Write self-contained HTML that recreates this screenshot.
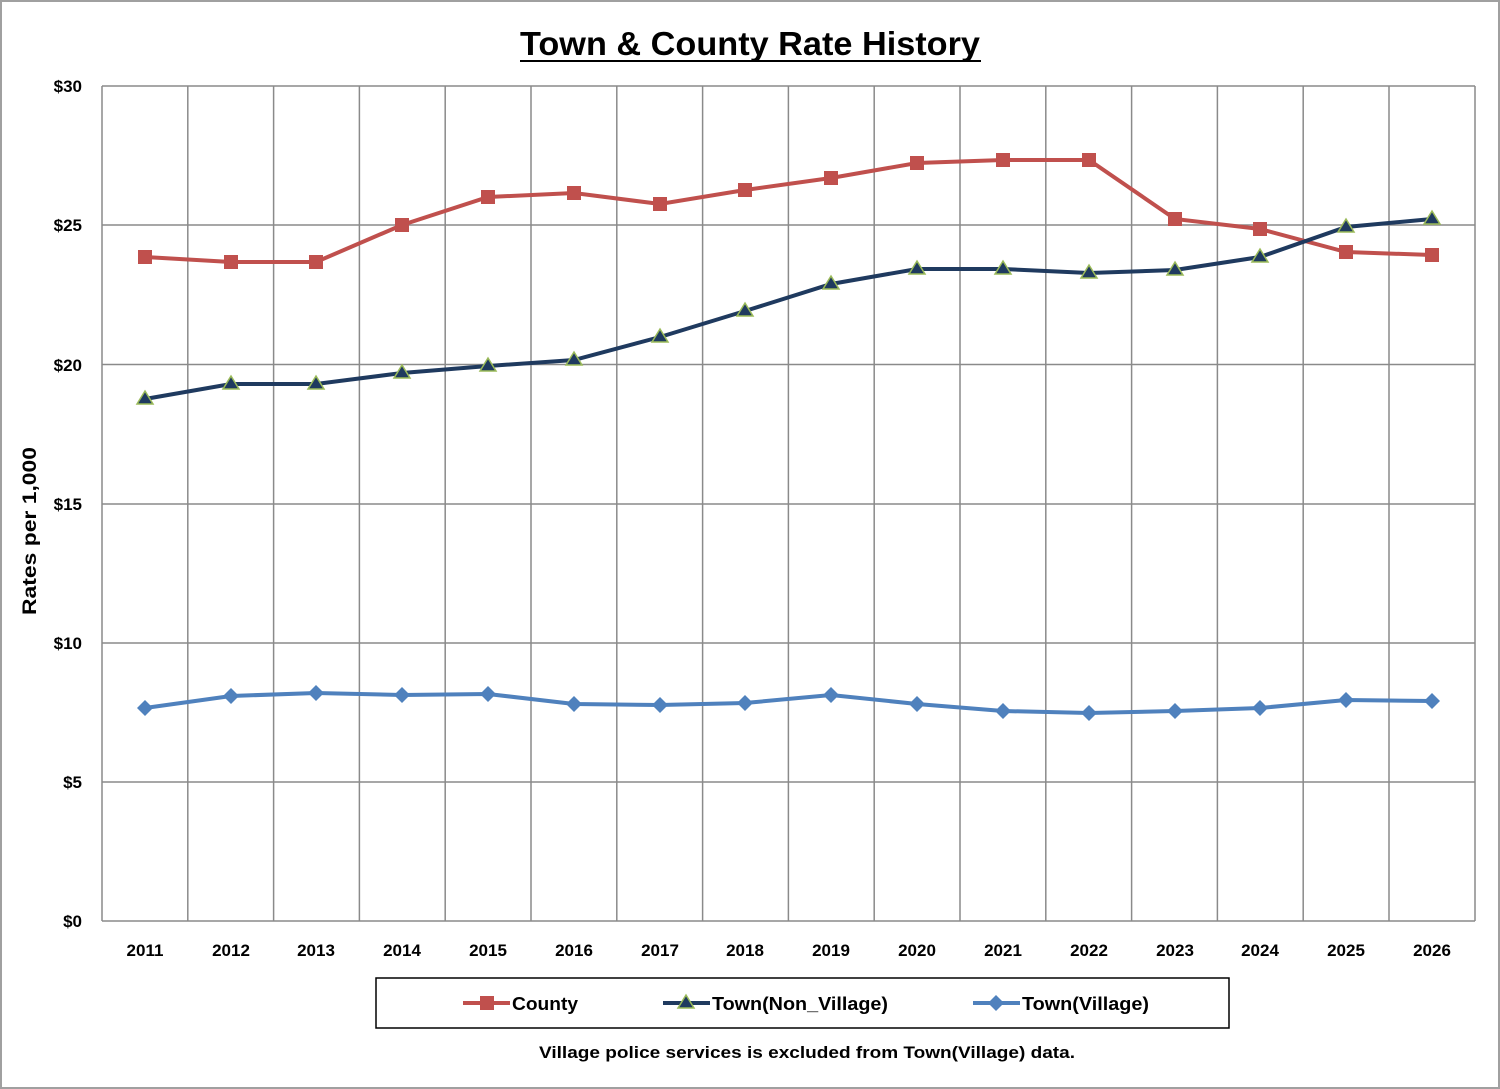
<!DOCTYPE html>
<html><head><meta charset="utf-8"><style>
body{margin:0;background:#fff}
svg{display:block}
text{font-family:"Liberation Sans",Arial,sans-serif;font-weight:bold}
</style></head><body>
<svg width="1500" height="1089" viewBox="0 0 1500 1089" xmlns="http://www.w3.org/2000/svg">
<rect x="1" y="1" width="1498" height="1087" fill="#fff" stroke="#a0a0a0" stroke-width="2"/>
<text x="520" y="55" font-size="33" textLength="460" lengthAdjust="spacingAndGlyphs">Town &amp; County Rate History</text>
<line x1="520" y1="61" x2="981" y2="61" stroke="#000" stroke-width="2"/>
<g stroke="#8a8a8a" stroke-width="1.5">
<line x1="102" y1="86" x2="1475" y2="86"/><line x1="102" y1="225" x2="1475" y2="225"/>
<line x1="102" y1="364.5" x2="1475" y2="364.5"/><line x1="102" y1="504" x2="1475" y2="504"/>
<line x1="102" y1="643" x2="1475" y2="643"/><line x1="102" y1="782" x2="1475" y2="782"/>
<line x1="102" y1="921" x2="1475" y2="921"/>
<line x1="102" y1="86" x2="102" y2="921"/><line x1="187.8" y1="86" x2="187.8" y2="921"/><line x1="273.6" y1="86" x2="273.6" y2="921"/><line x1="359.4" y1="86" x2="359.4" y2="921"/><line x1="445.2" y1="86" x2="445.2" y2="921"/><line x1="531" y1="86" x2="531" y2="921"/><line x1="616.8" y1="86" x2="616.8" y2="921"/><line x1="702.6" y1="86" x2="702.6" y2="921"/><line x1="788.4" y1="86" x2="788.4" y2="921"/><line x1="874.2" y1="86" x2="874.2" y2="921"/><line x1="960" y1="86" x2="960" y2="921"/><line x1="1045.8" y1="86" x2="1045.8" y2="921"/><line x1="1131.6" y1="86" x2="1131.6" y2="921"/><line x1="1217.4" y1="86" x2="1217.4" y2="921"/><line x1="1303.2" y1="86" x2="1303.2" y2="921"/><line x1="1389" y1="86" x2="1389" y2="921"/><line x1="1475" y1="86" x2="1475" y2="921"/>
</g>
<g font-size="17" text-anchor="end">
<text x="82" y="92">$30</text><text x="82" y="231">$25</text><text x="82" y="371">$20</text><text x="82" y="510">$15</text><text x="82" y="649">$10</text><text x="82" y="788">$5</text><text x="82" y="927">$0</text>
</g>
<g font-size="17" text-anchor="middle">
<text x="145" y="956">2011</text><text x="231" y="956">2012</text><text x="316" y="956">2013</text><text x="402" y="956">2014</text><text x="488" y="956">2015</text><text x="574" y="956">2016</text><text x="660" y="956">2017</text><text x="745" y="956">2018</text><text x="831" y="956">2019</text><text x="917" y="956">2020</text><text x="1003" y="956">2021</text><text x="1089" y="956">2022</text><text x="1175" y="956">2023</text><text x="1260" y="956">2024</text><text x="1346" y="956">2025</text><text x="1432" y="956">2026</text>
</g>
<text transform="translate(36,615) rotate(-90)" font-size="19" textLength="168" lengthAdjust="spacingAndGlyphs">Rates per 1,000</text>
<polyline fill="none" stroke="#c0504d" stroke-width="4" points="145,257 231,262 316,262 402,225 488,197 574,193 660,204 745,190 831,178 917,163 1003,160 1089,160 1175,219 1260,229 1346,252 1432,255"/>
<g fill="#c0504d">
<rect x="138" y="250" width="14" height="14"/><rect x="224" y="255" width="14" height="14"/><rect x="309" y="255" width="14" height="14"/><rect x="395" y="218" width="14" height="14"/><rect x="481" y="190" width="14" height="14"/><rect x="567" y="186" width="14" height="14"/><rect x="653" y="197" width="14" height="14"/><rect x="738" y="183" width="14" height="14"/><rect x="824" y="171" width="14" height="14"/><rect x="910" y="156" width="14" height="14"/><rect x="996" y="153" width="14" height="14"/><rect x="1082" y="153" width="14" height="14"/><rect x="1168" y="212" width="14" height="14"/><rect x="1253" y="222" width="14" height="14"/><rect x="1339" y="245" width="14" height="14"/><rect x="1425" y="248" width="14" height="14"/>
</g>
<polyline fill="none" stroke="#1f3a5f" stroke-width="4" points="145,399 231,384 316,384 402,373 488,366 574,360 660,337 745,311 831,284 917,269 1003,269 1089,273 1175,270 1260,257 1346,227 1432,219"/>
<g fill="#1f3a5f" stroke="#9bbb59" stroke-width="1.5">
<path d="M145,391 l8,13 h-16z"/><path d="M231,376 l8,13 h-16z"/><path d="M316,376 l8,13 h-16z"/><path d="M402,365 l8,13 h-16z"/><path d="M488,358 l8,13 h-16z"/><path d="M574,352 l8,13 h-16z"/><path d="M660,329 l8,13 h-16z"/><path d="M745,303 l8,13 h-16z"/><path d="M831,276 l8,13 h-16z"/><path d="M917,261 l8,13 h-16z"/><path d="M1003,261 l8,13 h-16z"/><path d="M1089,265 l8,13 h-16z"/><path d="M1175,262 l8,13 h-16z"/><path d="M1260,249 l8,13 h-16z"/><path d="M1346,219 l8,13 h-16z"/><path d="M1432,211 l8,13 h-16z"/>
</g>
<polyline fill="none" stroke="#4f81bd" stroke-width="4" points="145,708 231,696 316,693 402,695 488,694 574,704 660,705 745,703 831,695 917,704 1003,711 1089,713 1175,711 1260,708 1346,700 1432,701"/>
<g fill="#4f81bd">
<path d="M145,700 l8,8 l-8,8 l-8,-8z"/><path d="M231,688 l8,8 l-8,8 l-8,-8z"/><path d="M316,685 l8,8 l-8,8 l-8,-8z"/><path d="M402,687 l8,8 l-8,8 l-8,-8z"/><path d="M488,686 l8,8 l-8,8 l-8,-8z"/><path d="M574,696 l8,8 l-8,8 l-8,-8z"/><path d="M660,697 l8,8 l-8,8 l-8,-8z"/><path d="M745,695 l8,8 l-8,8 l-8,-8z"/><path d="M831,687 l8,8 l-8,8 l-8,-8z"/><path d="M917,696 l8,8 l-8,8 l-8,-8z"/><path d="M1003,703 l8,8 l-8,8 l-8,-8z"/><path d="M1089,705 l8,8 l-8,8 l-8,-8z"/><path d="M1175,703 l8,8 l-8,8 l-8,-8z"/><path d="M1260,700 l8,8 l-8,8 l-8,-8z"/><path d="M1346,692 l8,8 l-8,8 l-8,-8z"/><path d="M1432,693 l8,8 l-8,8 l-8,-8z"/>
</g>
<rect x="376" y="978" width="853" height="50" fill="#fff" stroke="#000" stroke-width="1.5"/>
<line x1="463" y1="1003" x2="510" y2="1003" stroke="#c0504d" stroke-width="4"/><rect x="480" y="996" width="14" height="14" fill="#c0504d"/>
<text x="512" y="1010" font-size="18" textLength="66" lengthAdjust="spacingAndGlyphs">County</text>
<line x1="663" y1="1003" x2="710" y2="1003" stroke="#1f3a5f" stroke-width="4"/><path d="M686,995 l8,13 h-16z" fill="#1f3a5f" stroke="#9bbb59" stroke-width="1.5"/>
<text x="712" y="1010" font-size="18" textLength="176" lengthAdjust="spacingAndGlyphs">Town(Non_Village)</text>
<line x1="973" y1="1003" x2="1020" y2="1003" stroke="#4f81bd" stroke-width="4"/><path d="M996,995 l8,8 l-8,8 l-8,-8z" fill="#4f81bd"/>
<text x="1022" y="1010" font-size="18" textLength="127" lengthAdjust="spacingAndGlyphs">Town(Village)</text>
<text x="539" y="1058" font-size="17" textLength="536" lengthAdjust="spacingAndGlyphs">Village police services is excluded from Town(Village) data.</text>
</svg>
</body></html>
